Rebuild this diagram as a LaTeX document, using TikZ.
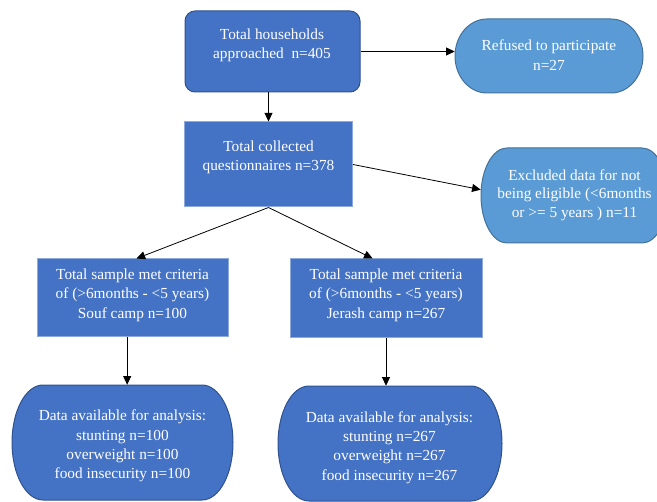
\documentclass[tikz,border=0pt]{standalone}
\usepackage{fontspec}
\setmainfont{Liberation Serif}
\usetikzlibrary{arrows.meta}
\definecolor{darkfill}{HTML}{4472C4}
\definecolor{darkline}{HTML}{2F528F}
\definecolor{paleline}{HTML}{8EA9DB}
\definecolor{lightfill}{HTML}{5B9BD5}
\definecolor{lightline}{HTML}{41719C}

\begin{document}
\begin{tikzpicture}[x=0.75pt,y=-0.75pt,
        txt/.style={text=white,align=center,font=\fontsize{11.5}{14.5}\selectfont},
        darkbox/.style={draw=darkline,fill=darkfill,line width=0.75pt},
        flatbox/.style={draw=paleline,fill=darkfill,line width=0.75pt},
        darkterm/.style={draw=darkline,fill=darkfill,line width=0.75pt},
        lightterm/.style={draw=lightline,fill=lightfill,line width=0.75pt},
        arr/.style={-{Triangle[length=6.5pt,width=6pt]},line width=0.6pt}]
        \useasboundingbox (0,0) rectangle (657,502);
        \draw[lightterm] (487,19) -- (611,19) arc[start angle=90,end angle=-90,x radius=24pt,y radius=27.75pt] -- (487,93) arc[start angle=270,end angle=90,x radius=24pt,y radius=27.75pt] -- cycle;
        \draw[lightterm] (507,148) -- (642,148) arc[start angle=90,end angle=-90,x radius=19.5pt,y radius=35.625pt] -- (507,243) arc[start angle=270,end angle=90,x radius=19.5pt,y radius=35.625pt] -- cycle;
        \draw[darkterm] (43,385) -- (202,385) arc[start angle=90,end angle=-90,x radius=23.25pt,y radius=43.125pt] -- (43,500) arc[start angle=270,end angle=90,x radius=23.25pt,y radius=43.125pt] -- cycle;
        \draw[darkterm] (309,386) -- (471,386) arc[start angle=90,end angle=-90,x radius=23.25pt,y radius=43.125pt] -- (309,501) arc[start angle=270,end angle=90,x radius=23.25pt,y radius=43.125pt] -- cycle;

        \node[darkbox,rounded corners=7.5pt,minimum width=131.25pt,minimum height=60.75pt] (hh) at (272.5,51.5) {};
        \node[txt] (hhtext) at (272,45) {Total households\\approached\ \ n=405};
        \node[txt,minimum width=141pt,minimum height=55.5pt] (refused) at (549,55) {Refused to participate\\n=27};

        \node[flatbox,minimum width=126pt,minimum height=63.75pt] (col) at (268.5,164.5) {};
        \node[txt] (coltext) at (268.5,157.5) {Total collected\\questionnaires n=378};
        \node[txt,font=\fontsize{11.5}{13.75}\selectfont,minimum width=140.25pt,minimum height=71.25pt] (excluded) at (574.5,195) {Excluded data for not\\being eligible (<6months\\or >= 5 years ) n=11};

        \node[flatbox,minimum width=143.25pt,minimum height=58.5pt] (souf) at (132.5,298) {};
        \node[txt] (souftext) at (132.5,295) {Total sample met criteria\\of (>6months - <5 years)\\Souf camp n=100};
        \node[flatbox,minimum width=144pt,minimum height=59.25pt] (jerash) at (386,298.5) {};
        \node[txt] (jerashtext) at (386,295) {Total sample met criteria\\of (>6months - <5 years)\\Jerash camp n=267};

        \node[txt,minimum width=165.75pt,minimum height=91.5pt] (soufdata) at (122.5,446) {Data available for analysis:\\stunting n=100\\overweight n=100\\food insecurity n=100};
        \node[txt,minimum width=168pt,minimum height=92.25pt] (jerashdata) at (389.5,447.5) {Data available for analysis:\\stunting n=267\\overweight n=267\\food insecurity n=267};

        \draw[arr] (hh.east) -- (hh.east -| refused.west);
        \draw[arr] (col.north |- hh.south) -- (col.north);
        \draw[arr] (col.east) -- ([yshift=4pt]excluded.west);
        \draw[arr] (col.south) -- ([xshift=3pt]souf.north);
        \draw[arr] (col.south) -- ([xshift=-10pt]jerash.north);
        \draw[arr] ([xshift=-4pt]souf.south) -- ([xshift=-4pt]souf.south |- soufdata.north);
        \draw[arr] (jerash.south) -- (jerash.south |- jerashdata.north);
\end{tikzpicture}
\end{document}
